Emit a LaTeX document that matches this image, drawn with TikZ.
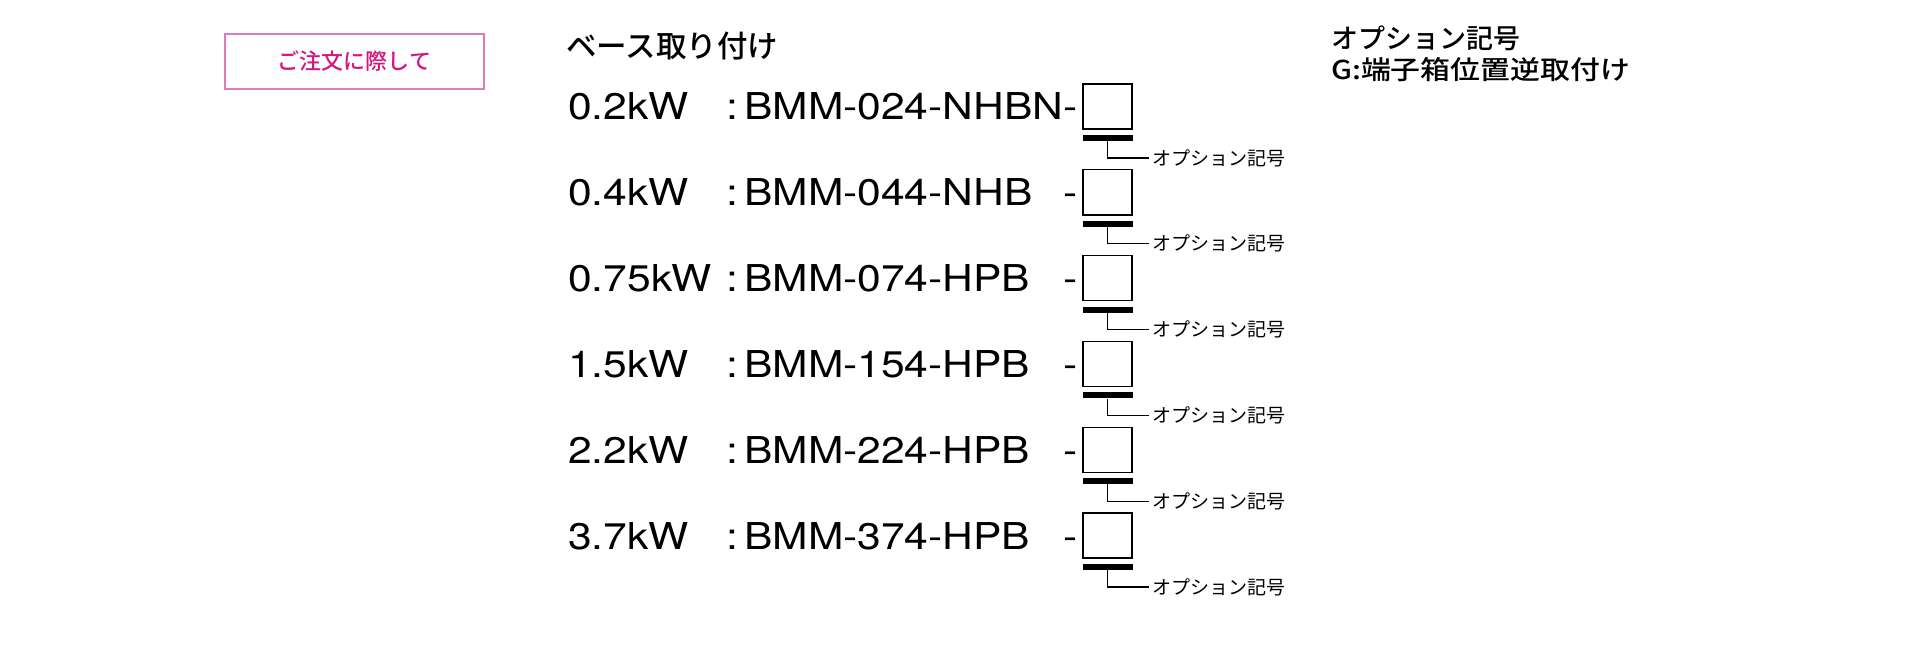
\documentclass[tikz,border=0pt]{standalone}
\usepackage{fontspec}
\setmainfont{TeX Gyre Heros}
\newfontfamily\lat[FakeStretch=1.15]{TeX Gyre Heros}
\newfontfamily\jp{Noto Sans CJK JP}
\newfontfamily\jpm{Noto Sans CJK JP Medium}
\definecolor{pinktext}{HTML}{D6157F}
\definecolor{pinkline}{HTML}{E07AB8}
\begin{document}
\begin{tikzpicture}[x=1pt,y=-1pt,
  big/.style={font=\lat\fontsize{37}{40}\selectfont, inner sep=0pt, anchor=base west},
  optbox/.style={draw=black, line width=1.4pt, minimum width=49pt, minimum height=45pt, inner sep=0pt},
  optbar/.style={fill=black, minimum width=50pt, minimum height=6pt, inner sep=0pt},
  optlab/.style={font=\jp\fontsize{19}{21}\selectfont, inner xsep=3pt, inner ysep=0pt, anchor=west},
  link/.style={line width=1.2pt},
  hdr/.style={inner sep=0pt, anchor=west}]
\useasboundingbox (0,0) rectangle (1920,650);
% order note box
\node[draw=pinkline, line width=1.2pt, minimum width=259pt, minimum height=55pt, inner sep=0pt,
      text=pinktext, font=\jpm\fontsize{22}{24}\selectfont] (note) at (354.5,61.5) {ご注文に際して};
% headings
\node[hdr, font=\jpm\fontsize{30.5}{32}\selectfont] (base) at (566,46) {ベース取り付け};
\node[hdr, font=\jpm\fontsize{27}{29}\selectfont] (opthead) at (1331,38) {オプション記号};
\node[hdr, font=\jpm\fontsize{26}{28}\selectfont] (optG) at (1331,70) {\scalebox{1.15}[1]{G:端子箱位置逆取付け}};
% rows
\foreach \i/\kw/\model in {1/0.2kW/BMM-024-NHBN-, 2/0.4kW/BMM-044-NHB, 3/0.75kW/BMM-074-HPB,
                           4/1.5kW/BMM-154-HPB, 5/2.2kW/BMM-224-HPB, 6/3.7kW/BMM-374-HPB}{
  \pgfmathsetmacro\yb{120+85.8*(\i-1)}
  \node[big] (kw\i) at (568,\yb) {\kw};
  \node[big, anchor=base] (col\i) at (732.5,\yb) {:};
  \node[big] (mod\i) at (744,\yb) {\model};
  \ifnum\i>1 \node[big, anchor=base east] (dsh\i) at (1078,\yb) {-};\fi
  \node[optbox] (box\i) at (1107.5,{\yb-13.5}) {};
  \node[optbar] (bar\i) at (1107.5,{\yb+18}) {};
  \node[optlab] (lab\i) at (1149,{\yb+38}) {オプション記号};
  \draw[link] (bar\i.south) |- (lab\i.west);
}
\end{tikzpicture}
\end{document}
